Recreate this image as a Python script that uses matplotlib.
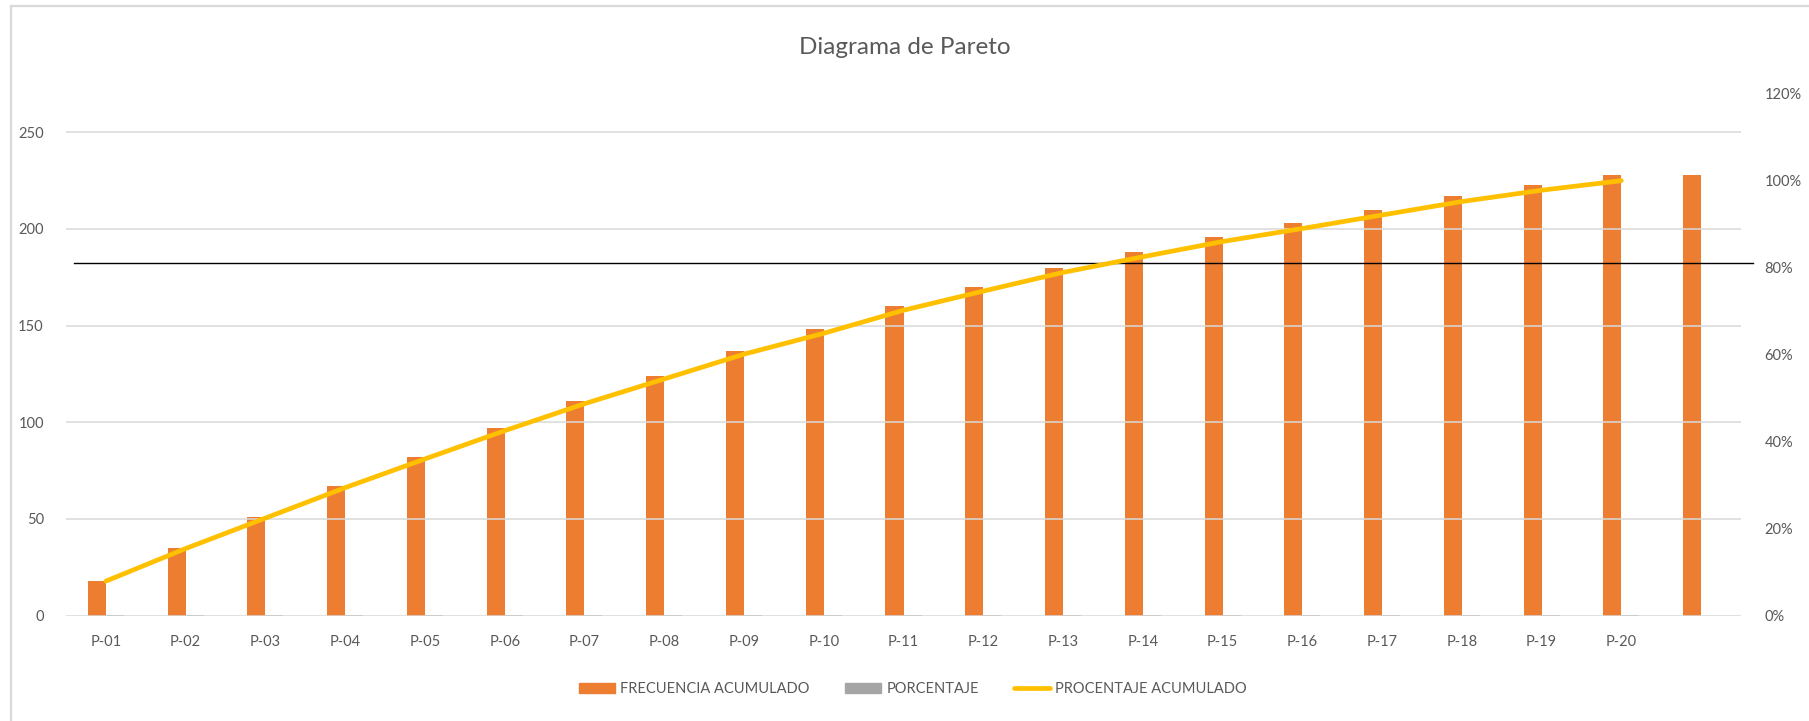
import matplotlib
matplotlib.use("Agg")
import matplotlib.pyplot as plt
from matplotlib.patches import Patch
from matplotlib.lines import Line2D
from matplotlib.ticker import PercentFormatter

# Datos
categorias = [f"P-{i:02d}" for i in range(1, 21)] + [""]
frecuencia_acumulada = [18, 35, 51, 67, 82, 97, 111, 124, 137, 148,
                        160, 170, 180, 188, 196, 203, 210, 217, 223, 228, 228]
porcentaje = [0.079, 0.075, 0.070, 0.070, 0.066, 0.066, 0.061, 0.057, 0.057, 0.048,
              0.053, 0.044, 0.044, 0.035, 0.035, 0.031, 0.031, 0.031, 0.026, 0.022, 0.0]
porcentaje_acumulado = [0.079, 0.154, 0.224, 0.294, 0.360, 0.425, 0.487, 0.544, 0.601, 0.649,
                        0.702, 0.746, 0.789, 0.825, 0.860, 0.890, 0.921, 0.952, 0.978, 1.0]
total = 228
corte_80 = 0.8 * total

NARANJA = "#ED7D31"
GRIS = "#A5A5A5"
AMARILLO = "#FFC000"
TEXTO = "#595959"
REJILLA = "#D9D9D9"

plt.rcParams["font.family"] = ["Lato", "DejaVu Sans"]

fig = plt.figure(figsize=(18.09, 7.21), dpi=100)
ax = fig.add_axes([66 / 1809, 105.5 / 721, 1675 / 1809, 521.8 / 721])
ax2 = ax.twinx()

x = list(range(len(categorias)))
w = 0.226
ax.bar([i - w / 2 for i in x], frecuencia_acumulada, width=w, color=NARANJA, zorder=2)
# la serie PORCENTAJE es casi cero en el eje principal: queda bajo la rejilla
ax.bar([i + w / 2 for i in x], porcentaje, width=w, color=GRIS, zorder=0.5)

ax.set_xlim(-0.5, len(categorias) - 0.5)
ax.set_ylim(0, 270)
ax.set_yticks([0, 50, 100, 150, 200, 250])
ax.set_xticks(x)
ax.set_xticklabels(categorias)
ax.set_axisbelow(False)
ax.grid(axis="y", color=REJILLA, linewidth=1.1, zorder=1)
for s in ax.spines.values():
    s.set_visible(False)
for s in ax2.spines.values():
    s.set_visible(False)
ax.tick_params(axis="both", length=0, labelsize=10.5, labelcolor=TEXTO)
ax.tick_params(axis="x", pad=14)
ax.tick_params(axis="y", pad=16)

# linea del 80%
ax.axhline(corte_80, xmin=0.0048, xmax=1.007, color="black", linewidth=1.0,
           clip_on=False, zorder=3)

ax2.plot(x[:len(porcentaje_acumulado)], porcentaje_acumulado, color=AMARILLO,
         linewidth=3.4, solid_capstyle="round", zorder=4)
ax2.set_ylim(0, 1.2)
ax2.set_yticks([0, 0.2, 0.4, 0.6, 0.8, 1.0, 1.2])
ax2.yaxis.set_major_formatter(PercentFormatter(1.0, decimals=0))
ax2.tick_params(axis="y", length=0, labelsize=10.5, labelcolor=TEXTO, pad=17)

fig.text(905 / 1809, 1 - 48 / 721, "Diagrama de Pareto", ha="center", va="center",
         fontsize=17.5, color=TEXTO)

handles = [Patch(color=NARANJA), Patch(color=GRIS),
           Line2D([], [], color=AMARILLO, linewidth=3.4, solid_capstyle="round")]
labels = ["FRECUENCIA ACUMULADO", "PORCENTAJE", "PROCENTAJE ACUMULADO"]
fig.legend(handles, labels, loc="center", bbox_to_anchor=(913 / 1809, 1 - 689 / 721),
           ncol=3, frameon=False, fontsize=10.5, labelcolor=TEXTO,
           handlelength=2.5, handleheight=0.75, handletextpad=0.35, columnspacing=2.4)

# borde del area del grafico (arriba e izquierda)
fig.add_artist(Line2D([11 / 1809, 1], [1 - 6 / 721, 1 - 6 / 721], color=REJILLA, linewidth=1.6))
fig.add_artist(Line2D([11 / 1809, 11 / 1809], [0, 1 - 6 / 721], color=REJILLA, linewidth=1.6))

fig.savefig("out.png", dpi=100, facecolor="white")
